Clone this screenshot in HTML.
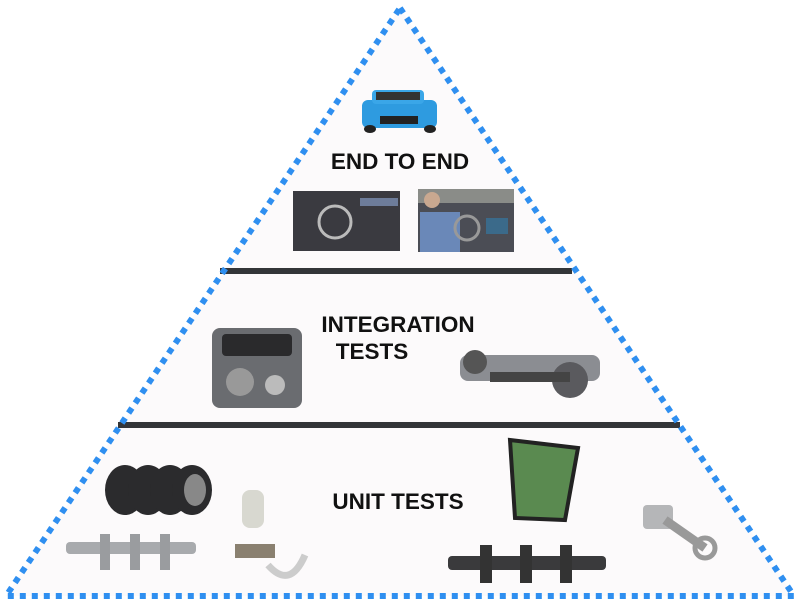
<!DOCTYPE html>
<html><head><meta charset="utf-8"><style>
html,body{margin:0;padding:0;background:#fff;width:800px;height:604px;overflow:hidden}
svg text{font-family:"Liberation Sans",sans-serif;font-weight:bold;fill:#111}
</style></head><body>
<svg width="800" height="604" viewBox="0 0 800 604">
<polygon points="400,8 794,596 6,596" fill="#fcfafb"/>
<rect x="220" y="268" width="352" height="6" fill="#333538"/>
<rect x="118" y="422" width="562" height="6" fill="#333538"/>
<g>
<rect x="362" y="100" width="75" height="28" rx="6" fill="#2e9be0"/>
<rect x="372" y="90" width="52" height="14" rx="4" fill="#3aa6e8"/>
<rect x="376" y="92" width="44" height="8" fill="#333"/>
<rect x="380" y="116" width="38" height="8" fill="#222"/>
<ellipse cx="370" cy="129" rx="6" ry="4" fill="#222"/>
<ellipse cx="430" cy="129" rx="6" ry="4" fill="#222"/>
</g>
<rect x="293" y="191" width="107" height="60" fill="#3a3a40"/>
<circle cx="335" cy="222" r="16" fill="none" stroke="#bbb" stroke-width="3"/>
<rect x="360" y="198" width="38" height="8" fill="#6d7c9a"/>
<rect x="418" y="189" width="96" height="63" fill="#4b4d55"/>
<rect x="418" y="189" width="96" height="14" fill="#8a8c88"/>
<rect x="420" y="212" width="40" height="40" fill="#6a88b8"/>
<circle cx="432" cy="200" r="8" fill="#c9a890"/>
<circle cx="467" cy="228" r="12" fill="none" stroke="#999" stroke-width="3"/>
<rect x="486" y="218" width="22" height="16" fill="#3b6a8a"/>
<rect x="212" y="328" width="90" height="80" rx="8" fill="#6a6c70"/>
<rect x="222" y="334" width="70" height="22" rx="4" fill="#2a2a2c"/>
<circle cx="240" cy="382" r="14" fill="#999"/>
<circle cx="275" cy="385" r="10" fill="#bbb"/>
<rect x="460" y="355" width="140" height="26" rx="8" fill="#8b8d92"/>
<circle cx="475" cy="362" r="12" fill="#555"/>
<circle cx="570" cy="380" r="18" fill="#5a5a5e"/>
<rect x="490" y="372" width="80" height="10" fill="#444"/>
<g fill="#2b2b2d">
<ellipse cx="125" cy="490" rx="20" ry="25"/>
<ellipse cx="148" cy="490" rx="20" ry="25"/>
<ellipse cx="170" cy="490" rx="20" ry="25"/>
<ellipse cx="192" cy="490" rx="20" ry="25"/>
</g>
<ellipse cx="195" cy="490" rx="11" ry="16" fill="#888"/>
<rect x="66" y="542" width="130" height="12" rx="4" fill="#a8aaad"/>
<rect x="100" y="534" width="10" height="36" fill="#9a9c9f"/>
<rect x="130" y="534" width="10" height="36" fill="#9a9c9f"/>
<rect x="160" y="534" width="10" height="36" fill="#9a9c9f"/>
<rect x="242" y="490" width="22" height="38" rx="8" fill="#d8d8d0"/>
<rect x="235" y="544" width="40" height="14" fill="#8a8070"/>
<path d="M268 565 Q290 590 305 555" stroke="#ccc" stroke-width="7" fill="none"/>
<polygon points="510,440 578,448 565,520 515,518" fill="#5a8a50" stroke="#222" stroke-width="4"/>
<rect x="448" y="556" width="158" height="14" rx="4" fill="#3a3a3c"/>
<rect x="480" y="545" width="12" height="38" fill="#333"/>
<rect x="520" y="545" width="12" height="38" fill="#333"/>
<rect x="560" y="545" width="12" height="38" fill="#333"/>
<rect x="643" y="505" width="30" height="24" rx="4" fill="#b5b6b8"/>
<line x1="665" y1="520" x2="705" y2="548" stroke="#999" stroke-width="9"/>
<circle cx="705" cy="548" r="10" fill="none" stroke="#999" stroke-width="5"/>
<text x="400" y="169" font-size="22.5" text-anchor="middle">END TO END</text>
<text x="398" y="332" font-size="22.5" text-anchor="middle">INTEGRATION</text>
<text x="372" y="359" font-size="22.5" text-anchor="middle">TESTS</text>
<text x="398" y="509" font-size="22.5" text-anchor="middle">UNIT TESTS</text>
<polygon points="400,8 794,596 6,596" fill="none" stroke="#2f8ff0" stroke-width="6" stroke-dasharray="6 6" stroke-linejoin="round"/>
</svg>
</body></html>
